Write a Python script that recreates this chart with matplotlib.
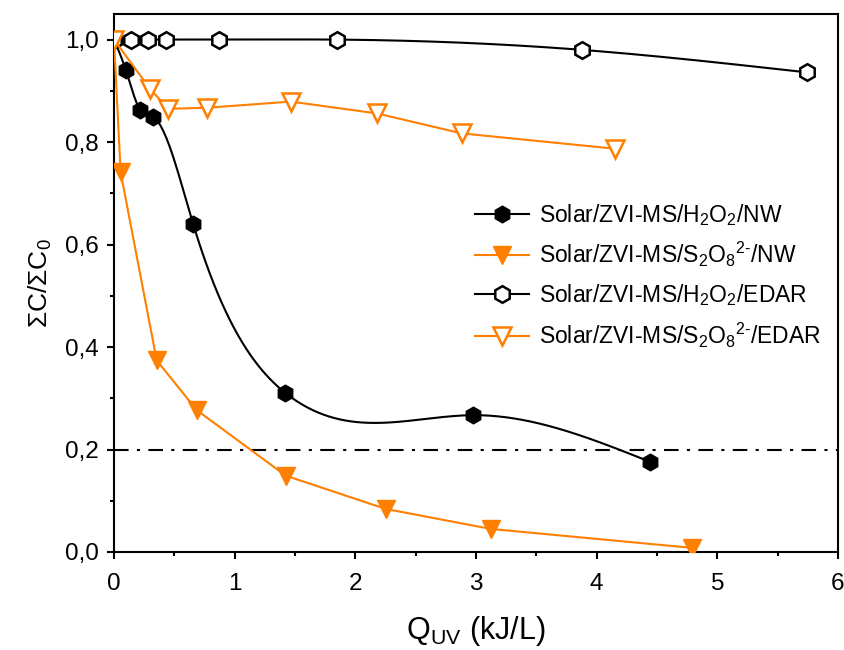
import numpy as np
import matplotlib.pyplot as plt
from matplotlib.ticker import MultipleLocator, FuncFormatter

plt.rcParams['font.family'] = ['Liberation Sans', 'DejaVu Sans']
plt.rcParams['mathtext.fontset'] = 'custom'
plt.rcParams['mathtext.rm'] = 'Liberation Sans'
plt.rcParams['mathtext.it'] = 'Liberation Sans:italic'

ORANGE = '#ff7f00'

# Solar/ZVI-MS/H2O2/NW (filled hexagons)
q_h2o2_nw = [0.0, 0.099, 0.215, 0.326, 0.655, 1.417, 2.978, 4.442]
c_h2o2_nw = [1.0, 0.940, 0.863, 0.849, 0.641, 0.311, 0.267, 0.176]

# Solar/ZVI-MS/S2O8/NW (filled triangles)
q_s2o8_nw = [0.0, 0.055, 0.354, 0.685, 1.423, 2.252, 3.122, 4.790]
c_s2o8_nw = [1.0, 0.741, 0.374, 0.277, 0.149, 0.084, 0.045, 0.008]

# Solar/ZVI-MS/H2O2/EDAR (open hexagons)
q_h2o2_edar = [0.0, 0.138, 0.284, 0.431, 0.873, 1.846, 3.876, 5.745]
c_h2o2_edar = [1.0, 1.0, 1.0, 1.0, 1.0, 1.0, 0.980, 0.936]

# Solar/ZVI-MS/S2O8/EDAR (open triangles)
q_s2o8_edar = [0.0, 0.298, 0.450, 0.773, 1.467, 2.177, 2.881, 4.152]
c_s2o8_edar = [1.0, 0.904, 0.865, 0.867, 0.879, 0.856, 0.817, 0.787]

threshold = 0.2


def natural_spline(x, y, n=400):
    # natural cubic spline through the points, for the smooth connecting line
    x = np.asarray(x, float)
    y = np.asarray(y, float)
    k = len(x)
    h = np.diff(x)
    A = np.zeros((k, k))
    r = np.zeros(k)
    A[0, 0] = A[-1, -1] = 1
    for i in range(1, k - 1):
        A[i, i - 1] = h[i - 1]
        A[i, i] = 2 * (h[i - 1] + h[i])
        A[i, i + 1] = h[i]
        r[i] = 3 * ((y[i + 1] - y[i]) / h[i] - (y[i] - y[i - 1]) / h[i - 1])
    c = np.linalg.solve(A, r)
    b = np.diff(y) / h - h * (2 * c[:-1] + c[1:]) / 3
    d = np.diff(c) / (3 * h)
    xs = np.linspace(x[0], x[-1], n)
    idx = np.clip(np.searchsorted(x, xs) - 1, 0, k - 2)
    t = xs - x[idx]
    ys = y[idx] + b[idx] * t + c[idx] * t ** 2 + d[idx] * t ** 3
    return xs, ys


fig = plt.figure(figsize=(8.45, 6.5), dpi=100)
ax = fig.add_axes([0.1349, 0.1508, 0.8568, 0.8277])

ax.axhline(threshold, color='black', lw=1.5, ls=(0, (7, 4, 1.5, 4)), zorder=1)

# spline lines for the H2O2 series
xs, ys = natural_spline(q_h2o2_nw, c_h2o2_nw)
ax.plot(xs, ys, color='black', lw=1.5, zorder=2)
xs, ys = natural_spline(q_h2o2_edar, c_h2o2_edar)
ax.plot(xs, ys, color='black', lw=1.5, zorder=2)

ax.plot(q_h2o2_nw, c_h2o2_nw, ls='none', marker='h', ms=12, color='black', zorder=3)
ax.plot(q_s2o8_nw, c_s2o8_nw, color=ORANGE, lw=1.5, marker='v', ms=13,
        mfc=ORANGE, mec=ORANGE, zorder=3)
ax.plot(q_h2o2_edar, c_h2o2_edar, ls='none', marker='h', ms=12, mfc='white',
        mec='black', mew=1.8, zorder=3)
ax.plot(q_s2o8_edar, c_s2o8_edar, color=ORANGE, lw=1.5, marker='v', ms=13,
        mfc='white', mec=ORANGE, mew=1.8, zorder=4)

# legend proxies
labels = ['Solar/ZVI-MS/H$_2$O$_2$/NW',
          'Solar/ZVI-MS/S$_2$O$_8$$^{2\\text{-}}$/NW',
          'Solar/ZVI-MS/H$_2$O$_2$/EDAR',
          'Solar/ZVI-MS/S$_2$O$_8$$^{2\\text{-}}$/EDAR']
h1, = ax.plot([], [], color='black', lw=1.5, marker='h', ms=12)
h2, = ax.plot([], [], color=ORANGE, lw=1.5, marker='v', ms=13)
h3, = ax.plot([], [], color='black', lw=1.5, marker='h', ms=12, mfc='white', mew=1.8)
h4, = ax.plot([], [], color=ORANGE, lw=1.5, marker='v', ms=13, mfc='white', mew=1.8)
ax.legend([h1, h2, h3, h4], labels, loc='upper left', bbox_to_anchor=(0.499, 0.651),
          frameon=False, fontsize=16.5, handlelength=2.35, handletextpad=0.45,
          labelspacing=0.55, borderpad=0, borderaxespad=0)

ax.set_xlim(0, 6)
ax.set_ylim(0, 1.05)
ax.xaxis.set_major_locator(MultipleLocator(1))
ax.xaxis.set_minor_locator(MultipleLocator(0.5))
ax.yaxis.set_major_locator(MultipleLocator(0.2))
ax.yaxis.set_minor_locator(MultipleLocator(0.1))
ax.yaxis.set_major_formatter(FuncFormatter(lambda v, p: f'{v:.1f}'.replace('.', ',')))

for s in ax.spines.values():
    s.set_linewidth(1.5)
ax.tick_params(which='major', direction='out', length=5, width=1.5, labelsize=17.5)
ax.tick_params(which='minor', direction='out', length=3, width=1.5)
ax.tick_params(axis='x', which='major', pad=10)
ax.tick_params(axis='y', which='major', pad=6)

ax.set_xlabel('Q$_{\\mathrm{UV}}$ (kJ/L)', fontsize=22, labelpad=14)
ax.set_ylabel('$\\Sigma$C/$\\Sigma$C$_0$', fontsize=19, labelpad=8)

fig.savefig('out.png', dpi=100)
